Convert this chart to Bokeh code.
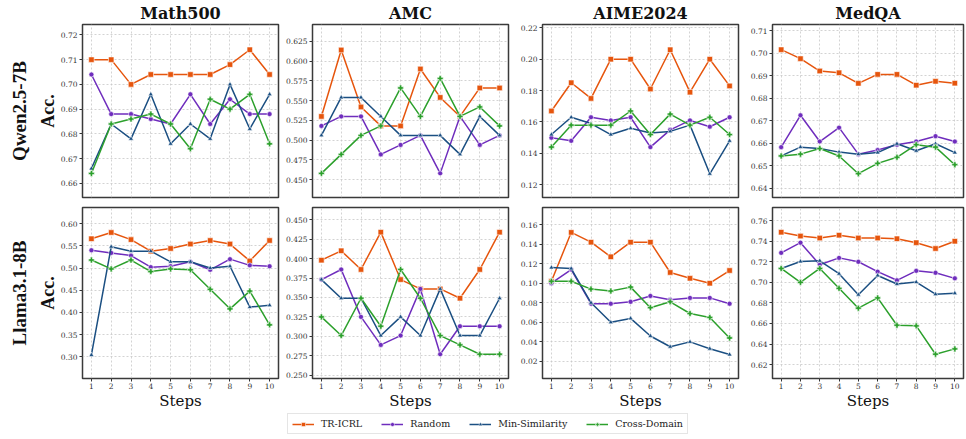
from bokeh.plotting import figure
from bokeh.layouts import column, row
from bokeh.models import (FixedTicker, PrintfTickFormatter, Range1d, Title,
                          Legend, LegendItem)
from bokeh.embed import file_html
from bokeh.resources import INLINE

steps = [1, 2, 3, 4, 5, 6, 7, 8, 9, 10]
methods = ["TR-ICRL", "Random", "Min-Similarity", "Cross-Domain"]
datasets = ["Math500", "AMC", "AIME2024", "MedQA"]
models = ["Qwen2.5-7B", "Llama3.1-8B"]

# ---- Qwen2.5-7B ----
qwen_math_tr = [0.710, 0.710, 0.700, 0.704, 0.704, 0.704, 0.704, 0.708, 0.714, 0.704]
qwen_math_rand = [0.704, 0.688, 0.688, 0.686, 0.684, 0.696, 0.684, 0.694, 0.688, 0.688]
qwen_math_minsim = [0.666, 0.684, 0.678, 0.696, 0.676, 0.684, 0.678, 0.700, 0.682, 0.696]
qwen_math_cross = [0.664, 0.684, 0.686, 0.688, 0.684, 0.674, 0.694, 0.690, 0.696, 0.676]

qwen_amc_tr = [0.530, 0.614, 0.542, 0.518, 0.518, 0.590, 0.554, 0.530, 0.566, 0.566]
qwen_amc_rand = [0.518, 0.530, 0.530, 0.482, 0.494, 0.506, 0.458, 0.530, 0.494, 0.506]
qwen_amc_minsim = [0.506, 0.554, 0.554, 0.530, 0.506, 0.506, 0.506, 0.482, 0.530, 0.506]
qwen_amc_cross = [0.458, 0.482, 0.506, 0.518, 0.566, 0.530, 0.578, 0.530, 0.542, 0.518]

qwen_aime_tr = [0.167, 0.185, 0.175, 0.200, 0.200, 0.181, 0.206, 0.179, 0.200, 0.183]
qwen_aime_rand = [0.150, 0.148, 0.163, 0.161, 0.163, 0.144, 0.155, 0.161, 0.157, 0.163]
qwen_aime_minsim = [0.152, 0.163, 0.159, 0.152, 0.156, 0.153, 0.154, 0.158, 0.127, 0.148]
qwen_aime_cross = [0.144, 0.158, 0.158, 0.158, 0.167, 0.152, 0.165, 0.158, 0.163, 0.152]

qwen_medqa_tr = [0.7016, 0.6976, 0.6921, 0.6913, 0.6866, 0.6906, 0.6906, 0.6858, 0.6875, 0.6867]
qwen_medqa_rand = [0.6582, 0.6724, 0.6607, 0.6669, 0.6551, 0.6569, 0.6593, 0.6607, 0.6631, 0.6607]
qwen_medqa_minsim = [0.6543, 0.6582, 0.6576, 0.6560, 0.6551, 0.6558, 0.6597, 0.6566, 0.6597, 0.6558]
qwen_medqa_cross = [0.6543, 0.6551, 0.6576, 0.6543, 0.6464, 0.6510, 0.6537, 0.6593, 0.6582, 0.6504]

# ---- Llama3.1-8B ----
llama_math_tr = [0.566, 0.580, 0.564, 0.538, 0.544, 0.554, 0.562, 0.554, 0.516, 0.562]
llama_math_rand = [0.540, 0.534, 0.528, 0.502, 0.504, 0.514, 0.496, 0.520, 0.506, 0.504]
llama_math_minsim = [0.304, 0.548, 0.538, 0.538, 0.514, 0.514, 0.500, 0.504, 0.412, 0.416]
llama_math_cross = [0.518, 0.498, 0.518, 0.492, 0.498, 0.496, 0.452, 0.408, 0.448, 0.372]

llama_amc_tr = [0.398, 0.410, 0.386, 0.434, 0.373, 0.361, 0.361, 0.349, 0.386, 0.434]
llama_amc_rand = [0.373, 0.386, 0.325, 0.289, 0.301, 0.361, 0.277, 0.313, 0.313, 0.313]
llama_amc_minsim = [0.373, 0.349, 0.349, 0.301, 0.325, 0.301, 0.361, 0.301, 0.301, 0.349]
llama_amc_cross = [0.325, 0.301, 0.349, 0.313, 0.386, 0.349, 0.301, 0.289, 0.277, 0.277]

llama_aime_tr = [0.102, 0.152, 0.142, 0.127, 0.142, 0.142, 0.111, 0.105, 0.100, 0.113]
llama_aime_rand = [0.100, 0.114, 0.079, 0.079, 0.081, 0.087, 0.083, 0.085, 0.085, 0.079]
llama_aime_minsim = [0.116, 0.115, 0.080, 0.060, 0.064, 0.046, 0.035, 0.040, 0.033, 0.027]
llama_aime_cross = [0.102, 0.102, 0.094, 0.092, 0.096, 0.075, 0.081, 0.069, 0.065, 0.044]

llama_medqa_tr = [0.7488, 0.7450, 0.7431, 0.7459, 0.7431, 0.7431, 0.7424, 0.7386, 0.7329, 0.7400]
llama_medqa_rand = [0.7287, 0.7386, 0.7171, 0.7238, 0.7200, 0.7104, 0.7020, 0.7112, 0.7093, 0.7039]
llama_medqa_minsim = [0.7135, 0.7203, 0.7210, 0.7084, 0.6880, 0.7067, 0.6984, 0.7003, 0.6885, 0.6894]
llama_medqa_cross = [0.7135, 0.7000, 0.7135, 0.6942, 0.6749, 0.6849, 0.6583, 0.6577, 0.6301, 0.6353]

# ---- y tick labels per panel ----
qwen_math_ticks = [0.66, 0.67, 0.68, 0.69, 0.70, 0.71, 0.72]
qwen_amc_ticks = [0.450, 0.475, 0.500, 0.525, 0.550, 0.575, 0.600, 0.625]
qwen_aime_ticks = [0.12, 0.14, 0.16, 0.18, 0.20, 0.22]
qwen_medqa_ticks = [0.64, 0.65, 0.66, 0.67, 0.68, 0.69, 0.70, 0.71]
llama_math_ticks = [0.30, 0.35, 0.40, 0.45, 0.50, 0.55, 0.60]
llama_amc_ticks = [0.250, 0.275, 0.300, 0.325, 0.350, 0.375, 0.400, 0.425, 0.450]
llama_aime_ticks = [0.02, 0.04, 0.06, 0.08, 0.10, 0.12, 0.14, 0.16]
llama_medqa_ticks = [0.62, 0.64, 0.66, 0.68, 0.70, 0.72, 0.74, 0.76]

colors = ["#e6550d", "#6f2dbd", "#1b4f82", "#2ca02c"]
markers = ["square", "circle", "triangle", "plus"]
msizes = [5.5, 5, 5, 6]

panels = [
    [
        ([qwen_math_tr, qwen_math_rand, qwen_math_minsim, qwen_math_cross], qwen_math_ticks, (0.6543, 0.7242), "%.2f"),
        ([qwen_amc_tr, qwen_amc_rand, qwen_amc_minsim, qwen_amc_cross], qwen_amc_ticks, (0.4275, 0.6462), "%.3f"),
        ([qwen_aime_tr, qwen_aime_rand, qwen_aime_minsim, qwen_aime_cross], qwen_aime_ticks, (0.1119, 0.2221), "%.2f"),
        ([qwen_medqa_tr, qwen_medqa_rand, qwen_medqa_minsim, qwen_medqa_cross], qwen_medqa_ticks, (0.6358, 0.7128), "%.2f"),
    ],
    [
        ([llama_math_tr, llama_math_rand, llama_math_minsim, llama_math_cross], llama_math_ticks, (0.251, 0.6364), "%.2f"),
        ([llama_amc_tr, llama_amc_rand, llama_amc_minsim, llama_amc_cross], llama_amc_ticks, (0.2458, 0.4657), "%.3f"),
        ([llama_aime_tr, llama_aime_rand, llama_aime_minsim, llama_aime_cross], llama_aime_ticks, (0.0025, 0.1775), "%.2f"),
        ([llama_medqa_tr, llama_medqa_rand, llama_medqa_minsim, llama_medqa_cross], llama_medqa_ticks, (0.6065, 0.7728), "%.2f"),
    ],
]

SERIF = "DejaVu Serif"
TIMES = "Liberation Serif"

FIG_W = [280, 230, 230, 226]
LEFT_B = [82, 32, 32, 32]
RIGHT_B = [2, 2, 2, 3]


def make_panel(r, c, series, yticks, ylim, fmt):
    top = r == 0
    left = c == 0
    h = 203 if top else 209
    p = figure(width=FIG_W[c], height=h,
               x_range=Range1d(0.55, 10.45), y_range=Range1d(*ylim),
               toolbar_location=None, output_backend="svg",
               title=datasets[c] if top else None,
               min_border_left=LEFT_B[c], min_border_right=RIGHT_B[c],
               min_border_top=24 if top else 4,
               min_border_bottom=6 if top else 32)
    p.background_fill_color = "white"
    p.border_fill_color = "white"
    p.outline_line_color = "#3a3a3a"
    p.outline_line_width = 1.5
    if top:
        p.title.align = "center"
        p.title.text_font = SERIF
        p.title.text_font_size = "16px"
        p.title.text_font_style = "bold"
        p.title.text_color = "#111111"
        p.title.standoff = 3
    if left:
        p.add_layout(Title(text=models[r], align="center", text_font=TIMES,
                           text_font_size="19px", text_font_style="bold",
                           text_color="#111111", standoff=10), "left")
        p.yaxis.axis_label = "Acc."
        p.yaxis.axis_label_text_font = TIMES
        p.yaxis.axis_label_text_font_size = "18px"
        p.yaxis.axis_label_text_font_style = "bold"
        p.yaxis.axis_label_text_color = "#111111"
        p.yaxis.axis_label_standoff = 0

    p.xaxis.ticker = FixedTicker(ticks=steps)
    p.yaxis.ticker = FixedTicker(ticks=yticks)
    p.yaxis.formatter = PrintfTickFormatter(format=fmt)
    for ax in (p.xaxis[0], p.yaxis[0]):
        ax.axis_line_color = None
        ax.major_tick_line_color = "#333333"
        ax.major_tick_out = 3
        ax.major_tick_in = 0
        ax.minor_tick_line_color = None
        ax.major_label_text_font = SERIF
        ax.major_label_text_font_size = "7.5px"
        ax.major_label_text_color = "#333333"
        ax.major_label_standoff = 2
    if top:
        p.xaxis.visible = False
    else:
        p.xaxis.major_label_standoff = 1
        p.xaxis.axis_label = "Steps"
        p.xaxis.axis_label_text_font = SERIF
        p.xaxis.axis_label_text_font_size = "15px"
        p.xaxis.axis_label_text_font_style = "normal"
        p.xaxis.axis_label_text_color = "#111111"
        p.xaxis.axis_label_standoff = 0

    p.grid.grid_line_color = "#c8c8c8"
    p.grid.grid_line_dash = "2 2"
    p.grid.grid_line_width = 0.8

    for vals, col, mk, ms in zip(series, colors, markers, msizes):
        p.line(steps, vals, line_color=col, line_width=1.5)
        p.scatter(steps, vals, marker=mk, size=ms, fill_color=col,
                  line_color="white", line_width=0.6)
    return p


rows = []
for r in range(2):
    figs = []
    for c in range(4):
        s, t, yl, f = panels[r][c]
        figs.append(make_panel(r, c, s, t, yl, f))
    rows.append(row(*figs, spacing=0))

# legend strip
lg = figure(width=966, height=27, toolbar_location=None, output_backend="svg",
            x_range=Range1d(0, 1), y_range=Range1d(0, 1),
            min_border=0, title=None)
lg.axis.visible = False
lg.grid.visible = False
lg.outline_line_color = None
lg.background_fill_color = "white"
items = []
for name, col, mk, ms in zip(methods, colors, markers, msizes):
    l = lg.line([-5, -4], [-5, -4], line_color=col, line_width=1.5)
    s = lg.scatter([-5], [-5], marker=mk, size=ms - 1, fill_color=col,
                   line_color="white", line_width=0.5)
    items.append(LegendItem(label=name, renderers=[l, s]))
legend = Legend(items=items, orientation="horizontal", location=(287, 5),
                label_text_font=SERIF, label_text_font_size="9.5px",
                label_text_color="#222222",
                border_line_color="#cccccc", border_line_width=1,
                background_fill_color="white", background_fill_alpha=1.0,
                glyph_width=22, glyph_height=10, label_height=10,
                label_standoff=7, spacing=19, padding=4, margin=0)
lg.add_layout(legend, "center")

layout = column(rows[0], rows[1], lg, spacing=0)

open("out.html", "w").write(file_html(layout, INLINE))
